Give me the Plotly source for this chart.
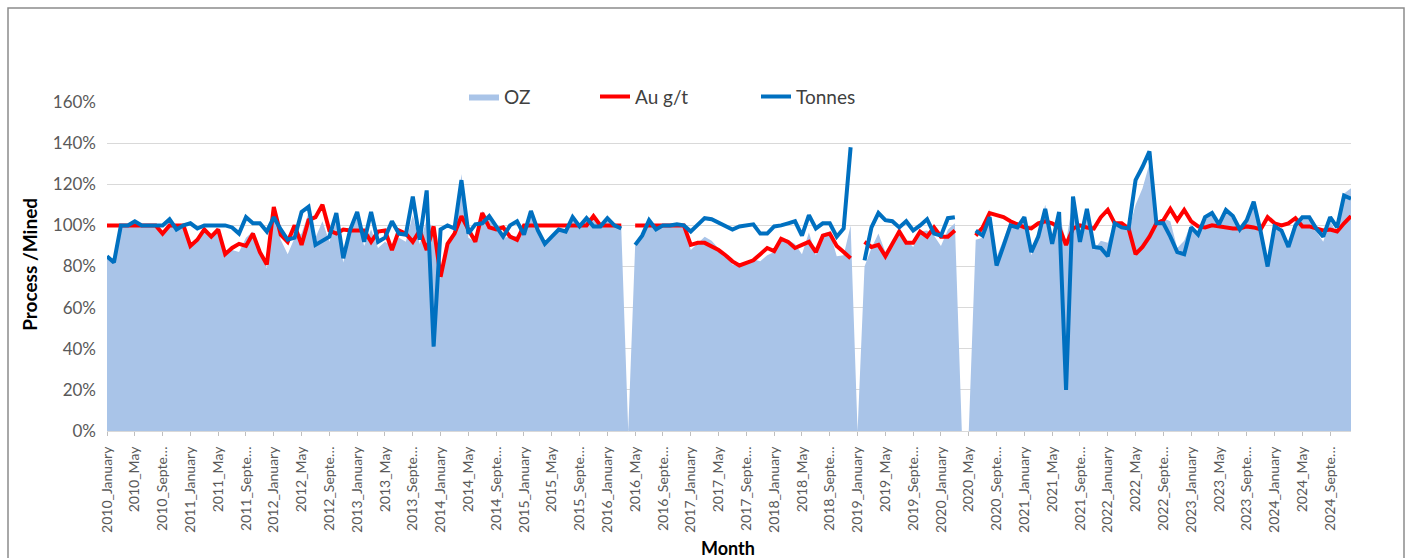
import plotly.graph_objects as go

# Monthly categories, 2010_January .. 2024_December
years = list(range(2010, 2025))
month_names = ["January", "February", "March", "April", "May", "June", "July",
               "August", "September", "October", "November", "December"]
categories = [f"{y}_{m}" for y in years for m in month_names]

# Tick labels: every fourth month, long names cut short
tick_values = categories[::4]
tick_labels = [c.replace("September", "Septe\u2026") for c in tick_values]

# Processed / mined ratios, in percent (None = no record that month)
tonnes = [
    85, 82, 100, 100, 102, 100, 100, 100, 100, 103, 98, 100,
    101, 98.5, 100, 100, 100, 100, 99, 96, 104, 101, 101, 97,
    104, 98, 93, 94, 106.5, 109, 90.5, 92.5, 94.5, 106, 84, 98,
    106.5, 92, 106.5, 92, 94, 102, 96, 95.5, 114, 93, 117, 41,
    98, 100, 98.5, 122, 96, 100.5, 101, 104.5, 99.5, 94.5, 100, 102,
    95.5, 107, 97.5, 91, 94.5, 98, 97, 104, 99.5, 103.5, 99.5, 99.5,
    103.5, 100, 98.5, None, 90.5, 95, 102.5, 98, 100, 100, 100.5, 100,
    97, 100, 103.5, 103, 101.5, 99.5, 98, 99.5, 100, 100.5, 96, 96,
    99.5, 100, 101, 102, 95, 105, 98.5, 101, 101, 94.5, 98.5, 138,
    None, 83, 99, 106, 102.5, 102, 99, 102, 97.5, 100, 103, 96,
    95, 103.5, 104, None, None, 97.5, 95, 104, 80.5, 90, 100, 99,
    104, 87, 94.5, 108, 91, 106.5, 20, 114, 92, 108, 89.5, 89,
    85, 101, 99, 98.5, 122, 128.5, 136, 101, 101, 94.5, 87, 86,
    99, 95.5, 104, 106, 100.5, 107.5, 104.5, 98, 102.5, 111.5, 97, 80,
    99.5, 97.5, 89.5, 100, 104, 104, 98.5, 94.5, 104, 99, 114.5, 113,
]

au_grade = [
    100, 100, 100, 100, 100, 100, 100, 100, 96, 100, 100, 100,
    90, 93, 98, 94.5, 98, 86, 89, 91, 90, 96, 87, 81,
    109, 95.5, 92, 100, 90.5, 102.5, 104, 110, 97.5, 96, 98, 97.5,
    97.5, 97.5, 92, 97, 97.5, 88, 97.5, 96, 92, 97.5, 88, 99.5,
    75, 91, 96, 104.5, 98, 92, 106, 99, 98, 99, 94.5, 93,
    100, 100, 100, 100, 100, 100, 100, 100, 100, 100, 104.5, 100,
    100, 100, 100, None, 100, 100, 100, 100, 100, 100, 100, 100,
    90.5, 91.5, 91.5, 90, 88, 85.5, 82.5, 80.5, 82, 83, 86, 89,
    87.5, 93.5, 92, 89, 90.5, 92, 87, 95, 96, 90, 87, 84,
    None, 92, 89.5, 90.5, 85, 91, 97, 91.5, 91.5, 97, 94.5, 99,
    94.5, 94.5, 97.5, None, None, 95, 99, 106, 105, 104, 102, 100.5,
    99, 98.5, 101, 102, 101, 99, 90.5, 98.5, 100, 99, 98.5, 104,
    107.5, 101, 101, 98.5, 86, 89.5, 94.5, 101, 102.5, 108, 102.5, 107.5,
    102, 99.5, 99, 100, 99.5, 99, 98.5, 98.5, 99.5, 99, 98, 104,
    101, 100, 101, 103.5, 99.5, 99.5, 98.5, 97.5, 98, 97, 101, 104.5,
]

ounces = [
    85, 82, 100, 100, 102, 100, 100, 100, 96, 103, 98, 100,
    91, 92, 98, 94.5, 98, 86, 88, 87, 94, 97, 88, 79,
    106, 93, 86, 94, 96, 106, 94, 102, 92, 102, 82, 96,
    104, 90, 98, 89, 92, 90, 94, 92, 105, 91, 103, 98,
    74, 91, 95, 125, 94, 92, 107, 103, 98, 94, 94.5, 95,
    95.5, 107, 97.5, 91, 94.5, 98, 97, 104, 99.5, 103.5, 104, 99.5,
    103.5, 100, 98.5, 0, 90.5, 95, 102.5, 98, 100, 100, 100.5, 100,
    88, 91.5, 94.5, 92.5, 89, 85, 81, 80, 82, 83.5, 82.5, 85.5,
    87, 93.5, 93, 91, 86, 96.5, 85.5, 96, 97, 85, 85.5, 100,
    0, 80, 89, 96, 87, 93, 96, 93, 89.5, 97, 97.5, 95,
    90, 98, 101, 0, 0, 93, 94, 108, 84.5, 93.5, 102, 99.5,
    103, 85.5, 95.5, 110, 92, 105.5, 92, 112, 92, 107, 88, 92.5,
    91.5, 102, 100, 97, 110, 118, 130, 102, 103.5, 102, 89, 92.5,
    101, 95, 103, 106, 100, 106.5, 103, 96.5, 102, 110.5, 95, 83,
    100.5, 97.5, 90.5, 103.5, 103.5, 103.5, 97, 92, 102, 96, 115.5, 118,
]

FONT = "Lato, 'Open Sans', sans-serif"
LEGEND_FONT = dict(size=19, color="#404040", family=FONT)

fig = go.Figure()
fig.add_trace(go.Scatter(
    x=categories, y=ounces, name="OZ", mode="lines", fill="tozeroy",
    line=dict(width=0, color="#A9C4E8"), fillcolor="#A9C4E8",
    legend="legend",
))
fig.add_trace(go.Scatter(
    x=categories, y=au_grade, name="Au g/t", mode="lines",
    line=dict(width=4, color="#FF0000"), legend="legend2",
))
fig.add_trace(go.Scatter(
    x=categories, y=tonnes, name="Tonnes", mode="lines",
    line=dict(width=4, color="#0070C0"), legend="legend3",
))


def legend_at(px):
    return dict(
        orientation="h", x=(px - 107) / 1244, y=1.016,
        xanchor="left", yanchor="middle", font=LEGEND_FONT,
        bgcolor="rgba(0,0,0,0)",
    )


fig.update_layout(
    width=1410, height=558,
    margin=dict(l=107, r=59, t=102, b=127),
    paper_bgcolor="white", plot_bgcolor="white",
    font=dict(family=FONT, color="#595959"),
    showlegend=True,
    legend=legend_at(464),
    legend2=legend_at(595),
    legend3=legend_at(756),
    xaxis=dict(
        type="category", range=[0, len(categories) - 1],
        tickmode="array", tickvals=tick_values, ticktext=tick_labels,
        tickangle=-90, tickfont=dict(size=14, color="#595959"),
        ticks="outside", ticklen=4, tickcolor="#BFBFBF",
        showgrid=False, showline=True, linecolor="#D9D9D9", linewidth=1,
        ticklabelstandoff=5,
    ),
    yaxis=dict(
        range=[0, 160], dtick=20, ticksuffix="%",
        tickfont=dict(size=17, color="#595959"),
        showgrid=True, gridcolor="#D9D9D9", gridwidth=1,
        zeroline=False, showline=False, ticklabelstandoff=10,
    ),
    shapes=[dict(
        type="rect", xref="paper", yref="paper",
        x0=(8 - 107) / 1244, x1=(1404 - 107) / 1244,
        y0=-0.45, y1=(431 - 8) / 329,
        line=dict(color="#8C8C8C", width=1.5), fillcolor="rgba(0,0,0,0)",
        layer="below",
    )],
    annotations=[
        dict(text="<b>Process /Mined</b>", textangle=-90,
             xref="paper", yref="paper", x=(30 - 107) / 1244, y=0.505,
             xanchor="center", yanchor="middle", showarrow=False,
             font=dict(size=19, color="#000000", family=FONT)),
        dict(text="<b>Month</b>", xref="paper", yref="paper",
             x=(728 - 107) / 1244, y=(431 - 548) / 329,
             xanchor="center", yanchor="middle", showarrow=False,
             font=dict(size=18, color="#000000", family=FONT)),
    ],
)

fig.write_html("out.html")
